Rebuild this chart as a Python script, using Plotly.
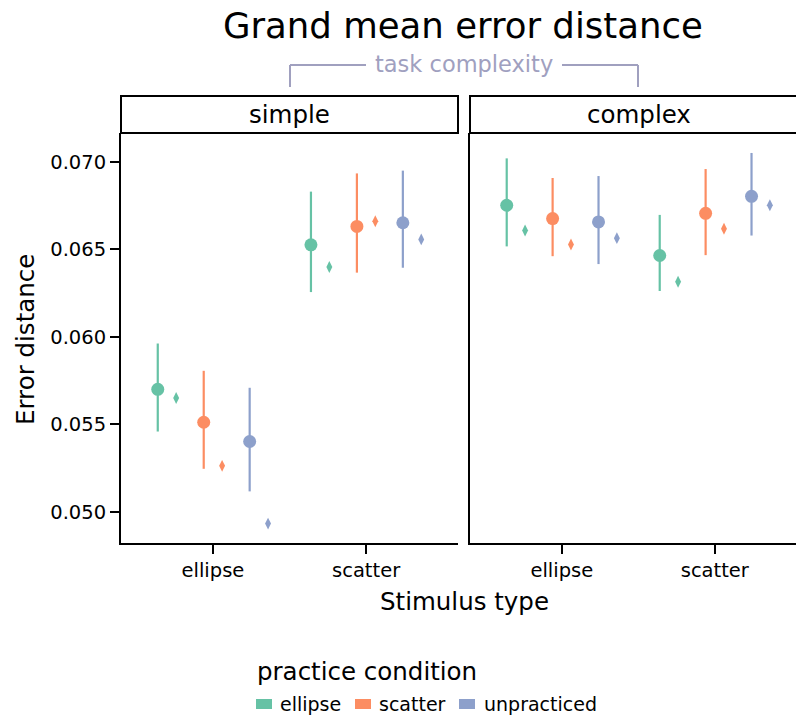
import plotly.graph_objects as go

# ---- data -------------------------------------------------------------
stimulus_types = ["ellipse", "scatter"]
complexities = ["simple", "complex"]
practice_conditions = ["ellipse", "scatter", "unpracticed"]

# grand mean error distance, per practice condition, over stimulus types
simple_mean = {"ellipse": [0.05699, 0.06525], "scatter": [0.05511, 0.06630], "unpracticed": [0.05401, 0.06651]}
simple_ci_low = {"ellipse": [0.05458, 0.06255], "scatter": [0.05245, 0.06366], "unpracticed": [0.05116, 0.06394]}
simple_ci_high = {"ellipse": [0.05961, 0.06829], "scatter": [0.05805, 0.06933], "unpracticed": [0.05708, 0.06949]}
simple_median = {"ellipse": [0.05650, 0.06398], "scatter": [0.05262, 0.06660], "unpracticed": [0.04932, 0.06556]}

complex_mean = {"ellipse": [0.06751, 0.06464], "scatter": [0.06675, 0.06705], "unpracticed": [0.06656, 0.06802]}
complex_ci_low = {"ellipse": [0.06516, 0.06261], "scatter": [0.06460, 0.06466], "unpracticed": [0.06415, 0.06578]}
complex_ci_high = {"ellipse": [0.07019, 0.06696], "scatter": [0.06907, 0.06958], "unpracticed": [0.06918, 0.07050]}
complex_median = {"ellipse": [0.06607, 0.06314], "scatter": [0.06527, 0.06617], "unpracticed": [0.06563, 0.06751]}

y_ticks = [0.050, 0.055, 0.060, 0.065, 0.070]

# ---- style ------------------------------------------------------------
colors = {"ellipse": "#66c2a5", "scatter": "#fc8d62", "unpracticed": "#8da0cb"}
hue_offset = {"ellipse": -0.3, "scatter": 0.0, "unpracticed": 0.3}
pair_shift = 0.06
FONT = "DejaVu Sans"
W, H = 796, 717
BRACKET = "#a0a0bf"
TICK_SIZE = 19.5
LABEL_SIZE = 24.5


def px(x):
    return x / W


def py(y):
    return 1 - y / H


panels = {
    "simple": dict(mean=simple_mean, lo=simple_ci_low, hi=simple_ci_high, med=simple_median,
                   xa="x", ya="y"),
    "complex": dict(mean=complex_mean, lo=complex_ci_low, hi=complex_ci_high, med=complex_median,
                    xa="x2", ya="y2"),
}

fig = go.Figure()

for name in complexities:
    p = panels[name]
    for cond in practice_conditions:
        base = [i + hue_offset[cond] for i in range(len(stimulus_types))]
        mean = p["mean"][cond]
        err_plus = [h - m for h, m in zip(p["hi"][cond], mean)]
        err_minus = [m - l for m, l in zip(mean, p["lo"][cond])]
        fig.add_trace(go.Scatter(
            x=[b - pair_shift for b in base], y=mean, mode="markers",
            marker=dict(symbol="circle", size=13, color=colors[cond]),
            error_y=dict(type="data", symmetric=False, array=err_plus, arrayminus=err_minus,
                         color=colors[cond], thickness=2.2, width=0),
            xaxis=p["xa"], yaxis=p["ya"], showlegend=False, name=cond,
        ))
        fig.add_trace(go.Scatter(
            x=[b + pair_shift for b in base], y=p["med"][cond], mode="markers",
            marker=dict(symbol="diamond-tall", size=8.5, color=colors[cond]),
            xaxis=p["xa"], yaxis=p["ya"], showlegend=False, name=cond,
        ))

# ---- axes -------------------------------------------------------------
y_range = [0.04821, 0.07164]
x_left = [121, 458]
x_right = [470, 796]
cat_px = 153.0
y_dom = [py(543), py(133)]

axis_common = dict(showgrid=False, zeroline=False, showline=True, linecolor="black", linewidth=2)
tick_font = dict(family=FONT, size=TICK_SIZE, color="black")

fig.update_layout(
    xaxis=dict(domain=[px(x_left[0]), px(x_left[1])], range=[-0.6, 1.6],
               tickvals=list(range(len(stimulus_types))), ticktext=stimulus_types,
               ticks="outside", ticklen=9, tickwidth=2, tickcolor="black",
               tickfont=tick_font, anchor="y", **axis_common),
    yaxis=dict(domain=y_dom, range=y_range, tickvals=y_ticks,
               ticktext=[f"{v:.3f}" for v in y_ticks],
               ticks="outside", ticklen=9, tickwidth=2, tickcolor="black",
               tickfont=tick_font, anchor="x", **axis_common),
    xaxis2=dict(domain=[px(x_right[0]), 1.0],
                range=[-0.6, -0.6 + (x_right[1] - x_right[0]) / cat_px],
                tickvals=list(range(len(stimulus_types))), ticktext=stimulus_types,
                ticks="outside", ticklen=9, tickwidth=2, tickcolor="black",
                tickfont=tick_font, anchor="y2", **axis_common),
    yaxis2=dict(domain=y_dom, range=y_range, tickvals=y_ticks, showticklabels=False,
                ticks="", anchor="x2", **axis_common),
)

shapes = []
annotations = []

# facet strips
strip_top, strip_bot = 96, 133
for label, (x0, x1), xc in [("simple", x_left, (x_left[0] + x_left[1]) / 2),
                            ("complex", (x_right[0], 808), (x_right[0] + 808) / 2)]:
    shapes.append(dict(type="rect", xref="paper", yref="paper",
                       x0=px(x0), x1=px(x1), y0=py(strip_bot), y1=py(strip_top),
                       line=dict(color="black", width=2), fillcolor="white", layer="above"))
    annotations.append(dict(text=label, xref="paper", yref="paper", x=px(xc),
                            y=py((strip_top + strip_bot) / 2), showarrow=False,
                            font=dict(family=FONT, size=LABEL_SIZE, color="black"),
                            xanchor="center", yanchor="middle"))

# task complexity bracket
for (xa, ya, xb, yb) in [(290, 87, 290, 65), (290, 65, 366, 65),
                         (562, 65, 638, 65), (638, 65, 638, 87)]:
    shapes.append(dict(type="line", xref="paper", yref="paper", x0=px(xa), y0=py(ya),
                       x1=px(xb), y1=py(yb), line=dict(color=BRACKET, width=2)))
annotations.append(dict(text="task complexity", xref="paper", yref="paper", x=px(464), y=py(64),
                        showarrow=False, xanchor="center", yanchor="middle",
                        font=dict(family=FONT, size=22.5, color=BRACKET)))

# title and axis labels
annotations.append(dict(text="Grand mean error distance", xref="paper", yref="paper",
                        x=px(463), y=py(25), showarrow=False, xanchor="center", yanchor="middle",
                        font=dict(family=FONT, size=35.5, color="black")))
annotations.append(dict(text="Error distance", xref="paper", yref="paper", x=px(25), y=py(340),
                        showarrow=False, textangle=-90, xanchor="center", yanchor="middle",
                        font=dict(family=FONT, size=LABEL_SIZE, color="black")))
annotations.append(dict(text="Stimulus type", xref="paper", yref="paper", x=px(464), y=py(601),
                        showarrow=False, xanchor="center", yanchor="middle",
                        font=dict(family=FONT, size=LABEL_SIZE, color="black")))

# legend
annotations.append(dict(text="practice condition", xref="paper", yref="paper", x=px(255), y=py(671),
                        showarrow=False, xanchor="left", yanchor="middle",
                        font=dict(family=FONT, size=LABEL_SIZE, color="black")))
for cond, patch_x, text_x in [("ellipse", 256, 278), ("scatter", 355, 377), ("unpracticed", 459, 482)]:
    shapes.append(dict(type="rect", xref="paper", yref="paper", x0=px(patch_x), x1=px(patch_x + 16),
                       y0=py(709), y1=py(699), line=dict(width=0), fillcolor=colors[cond]))
    annotations.append(dict(text=cond, xref="paper", yref="paper", x=px(text_x), y=py(704),
                            showarrow=False, xanchor="left", yanchor="middle",
                            font=dict(family=FONT, size=19, color="black")))

fig.update_layout(
    width=W, height=H, margin=dict(l=0, r=0, t=0, b=0),
    paper_bgcolor="white", plot_bgcolor="white",
    shapes=shapes, annotations=annotations, showlegend=False,
    font=dict(family=FONT),
)

fig.write_html("out.html")
